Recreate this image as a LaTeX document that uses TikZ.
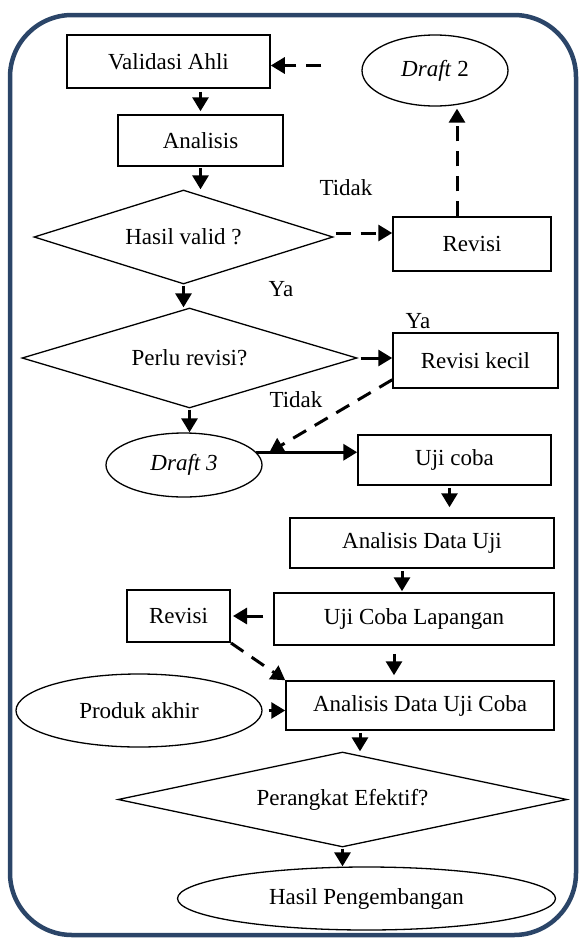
\documentclass[tikz,border=0pt]{standalone}
\usepackage{fontspec}
\setmainfont{LiberationSerif}[
  Extension=.ttf,
  UprightFont=*-Regular,
  BoldFont=*-Bold,
  ItalicFont=*-Italic,
  BoldItalicFont=*-BoldItalic]
\usetikzlibrary{calc}
\usetikzlibrary{arrows.meta}
\usetikzlibrary{shapes.geometric}
\usepackage{xcolor}
\definecolor{frameblue}{RGB}{43,69,104}

\tikzset{
  box/.style={draw, line width=1.5pt, inner sep=0pt},
  oval/.style={draw, ellipse, line width=1.3pt, inner sep=0pt},
  decide/.style={draw, diamond, line width=1.3pt, inner sep=0pt},
  arr/.style={line width=3pt, -{Triangle[length=14pt,width=16pt]}},
  darr/.style={arr, dash pattern=on 15pt off 10pt},
  every node/.style={font=\fontsize{23}{27}\selectfont}
}

\begin{document}
\begin{tikzpicture}[x=1pt,y=-1pt]
\useasboundingbox (0,0) rectangle (581,940);
\draw[frameblue, line width=4.5pt, rounded corners=62pt] (10,15) rectangle (576,935);

\node[box, minimum width=203, minimum height=53] (valid) at (168.5,61.5) {Validasi Ahli};
\node[oval, minimum width=146, minimum height=71] (draftb) at (435,70.5) {\textit{Draft} 2};
\node[box, minimum width=165, minimum height=51] (analisis) at (200.5,140.5) {Analisis};
\node[decide, aspect=3.2, minimum width=299, minimum height=94] (hasil) at (183.5,237) {Hasil valid ?};
\node[box, minimum width=158, minimum height=54] (revisia) at (472,244) {Revisi};
\node[decide, aspect=3.35, minimum width=335, minimum height=100] (perlu) at (189.5,358) {Perlu revisi?};
\node[box, minimum width=165, minimum height=55] (revkecil) at (475.5,360.5) {Revisi kecil};
\node[oval, minimum width=156, minimum height=64] (draftc) at (184,465) {\textit{Draft 3}};
\node[box, minimum width=193, minimum height=50] (ujicoba) at (454.5,460) {Uji coba};
\node[box, minimum width=264, minimum height=50] (adu) at (422,543) {Analisis Data Uji};
\node[box, minimum width=280, minimum height=52] (ucl) at (414,619) {Uji Coba Lapangan};
\node[box, line width=2pt, minimum width=103, minimum height=52] (revisib) at (178.5,616) {Revisi};
\node[oval, minimum width=246, minimum height=73] (produk) at (139,710.5) {Produk akhir};
\node[box, minimum width=268, minimum height=49] (aduc) at (420,705.5) {Analisis Data Uji Coba};
\node[decide, aspect=4.7, minimum width=449, minimum height=95] (efektif) at (342.5,799.5) {Perangkat Efektif?};
\node[oval, minimum width=378, minimum height=63] (hasilp) at (366.5,898.5) {Hasil Pengembangan};

\node (tidaka) at (346,188) {Tidak};
\node (yaa) at (281,289) {Ya};
\node (yab) at (418,321) {Ya};
\node (tidakb) at (296,400) {Tidak};

\coordinate (dctip) at ([xshift=13pt]draftc.10);

\draw[darr, shorten <=40pt] ([yshift=5pt]draftb.west) -- ([yshift=5pt]draftb.west -| valid.east);
\draw[arr, shorten <=3pt, shorten >=3pt] (analisis.north |- valid.south) -- (analisis.north);
\draw[arr, shorten <=1pt] (analisis.south) -- (analisis.south |- hasil.north);
\draw[darr, shorten <=2pt] ([yshift=4pt]hasil.east) -- ([yshift=4pt]hasil.east -| revisia.west);
\draw[darr, shorten >=2pt] ([xshift=-15pt]revisia.north) -- ([xshift=-15pt]revisia.north |- draftb.south);
\draw[arr, shorten <=1pt] (hasil.south) -- (hasil.south |- perlu.north);
\draw[arr, shorten <=3pt] (perlu.east) -- (perlu.east -| revkecil.west);
\draw[darr] ([yshift=9pt]revkecil.south west) -- (dctip);
\draw[arr, shorten <=1pt] (perlu.south) -- (perlu.south |- draftc.north);
\draw[arr, line width=3.4pt] (draftc.10) -- (draftc.10 -| ujicoba.west);
\draw[arr, shorten <=2pt, shorten >=10pt] ([xshift=-5pt]ujicoba.south) -- ([xshift=-5pt]ujicoba.south |- adu.north);
\draw[arr, shorten <=2pt, shorten >=1pt] ([xshift=-20pt]adu.south) -- ([xshift=-20pt]adu.south |- ucl.north);
\draw[arr, shorten <=10pt, shorten >=2pt] (ucl.west |- revisib.east) -- (revisib.east);
\draw[arr, shorten <=8pt, shorten >=5pt] ([xshift=-20pt]ucl.south) -- ([xshift=-20pt]ucl.south |- aduc.north);
\draw[darr] (revisib.south east) -- (aduc.north west);
\draw[arr, shorten <=6pt] (produk.east) -- (produk.east -| aduc.west);
\draw[arr, shorten <=2pt] ([xshift=-60pt]aduc.south) -- ([xshift=-60pt]aduc.south |- efektif.north);
\draw[arr, shorten <=1pt] (efektif.south) -- (efektif.south |- hasilp.north);
\end{tikzpicture}
\end{document}
